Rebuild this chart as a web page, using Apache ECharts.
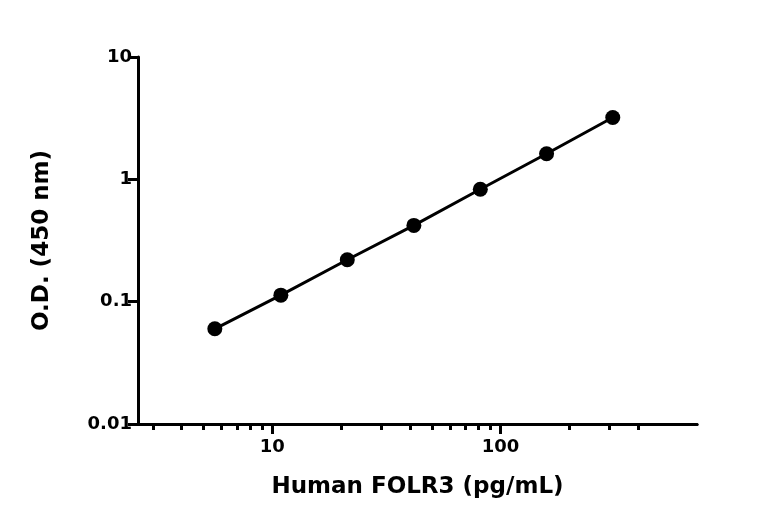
<!DOCTYPE html>
<html lang="en">
<head>
<meta charset="UTF-8">
<title>FOLR3 standard curve</title>
<style>
  html, body { margin: 0; padding: 0; background: #fff; }
  #main { width: 768px; height: 532px; }
</style>
</head>
<body>
<div id="main"></div>
<script src="https://cdn.jsdelivr.net/npm/echarts@6/dist/echarts.min.js"></script>
<script>
  var conc = [5.6, 10.9, 21.3, 41.7, 81.5, 159, 310];
  var od = [0.06, 0.113, 0.22, 0.42, 0.83, 1.62, 3.2];
  var xMajor = [10, 100];
  var xMinor = [3, 4, 5, 6, 7, 8, 9, 20, 30, 40, 50, 60, 70, 80, 90, 200, 300, 400];
  var yMajor = [0.01, 0.1, 1, 10];

  var font = '"DejaVu Sans", sans-serif';
  var chart = echarts.init(document.getElementById('main'));
  var pts = conc.map(function (c, i) { return [c, od[i]]; });

  var xBase = {
    type: 'log', logBase: 10, min: 2.58, max: 725,
    axisLine: { lineStyle: { color: '#000', width: 3 } },
    splitLine: { show: false }
  };

  chart.setOption({
    backgroundColor: '#fff',
    animation: false,
    grid: { left: 138, right: 71, top: 57, bottom: 108 },
    xAxis: [
      Object.assign({}, xBase, {
        name: 'Human FOLR3 (pg/mL)', nameLocation: 'middle', nameGap: 52,
        nameTextStyle: { color: '#000', fontSize: 23, fontWeight: 'bold', fontFamily: font },
        axisTick: { length: 10, lineStyle: { width: 3, color: '#000' }, customValues: xMajor },
        axisLabel: { customValues: xMajor, color: '#000', fontSize: 18, fontWeight: 'bold',
          fontFamily: font, margin: 14 }
      }),
      Object.assign({}, xBase, {
        position: 'bottom',
        axisTick: { length: 6, lineStyle: { width: 3, color: '#000' }, customValues: xMinor },
        axisLabel: { show: false }
      })
    ],
    yAxis: {
      type: 'log', logBase: 10, min: 0.01, max: 10,
      name: 'O.D. (450 nm)', nameLocation: 'middle', nameGap: 84,
      nameTextStyle: { color: '#000', fontSize: 23, fontWeight: 'bold', fontFamily: font },
      axisLine: { lineStyle: { color: '#000', width: 3 } },
      axisTick: { length: 10, lineStyle: { width: 3, color: '#000' }, customValues: yMajor },
      axisLabel: { customValues: yMajor, color: '#000', fontSize: 18, fontWeight: 'bold',
        fontFamily: font, margin: 6,
        formatter: function (v) { return String(+v.toPrecision(3)); } },
      splitLine: { show: false }
    },
    series: [{
      type: 'line',
      data: pts,
      symbol: 'circle',
      symbolSize: 15,
      itemStyle: { color: '#000' },
      lineStyle: { color: '#000', width: 3 }
    }]
  });
</script>
</body>
</html>
